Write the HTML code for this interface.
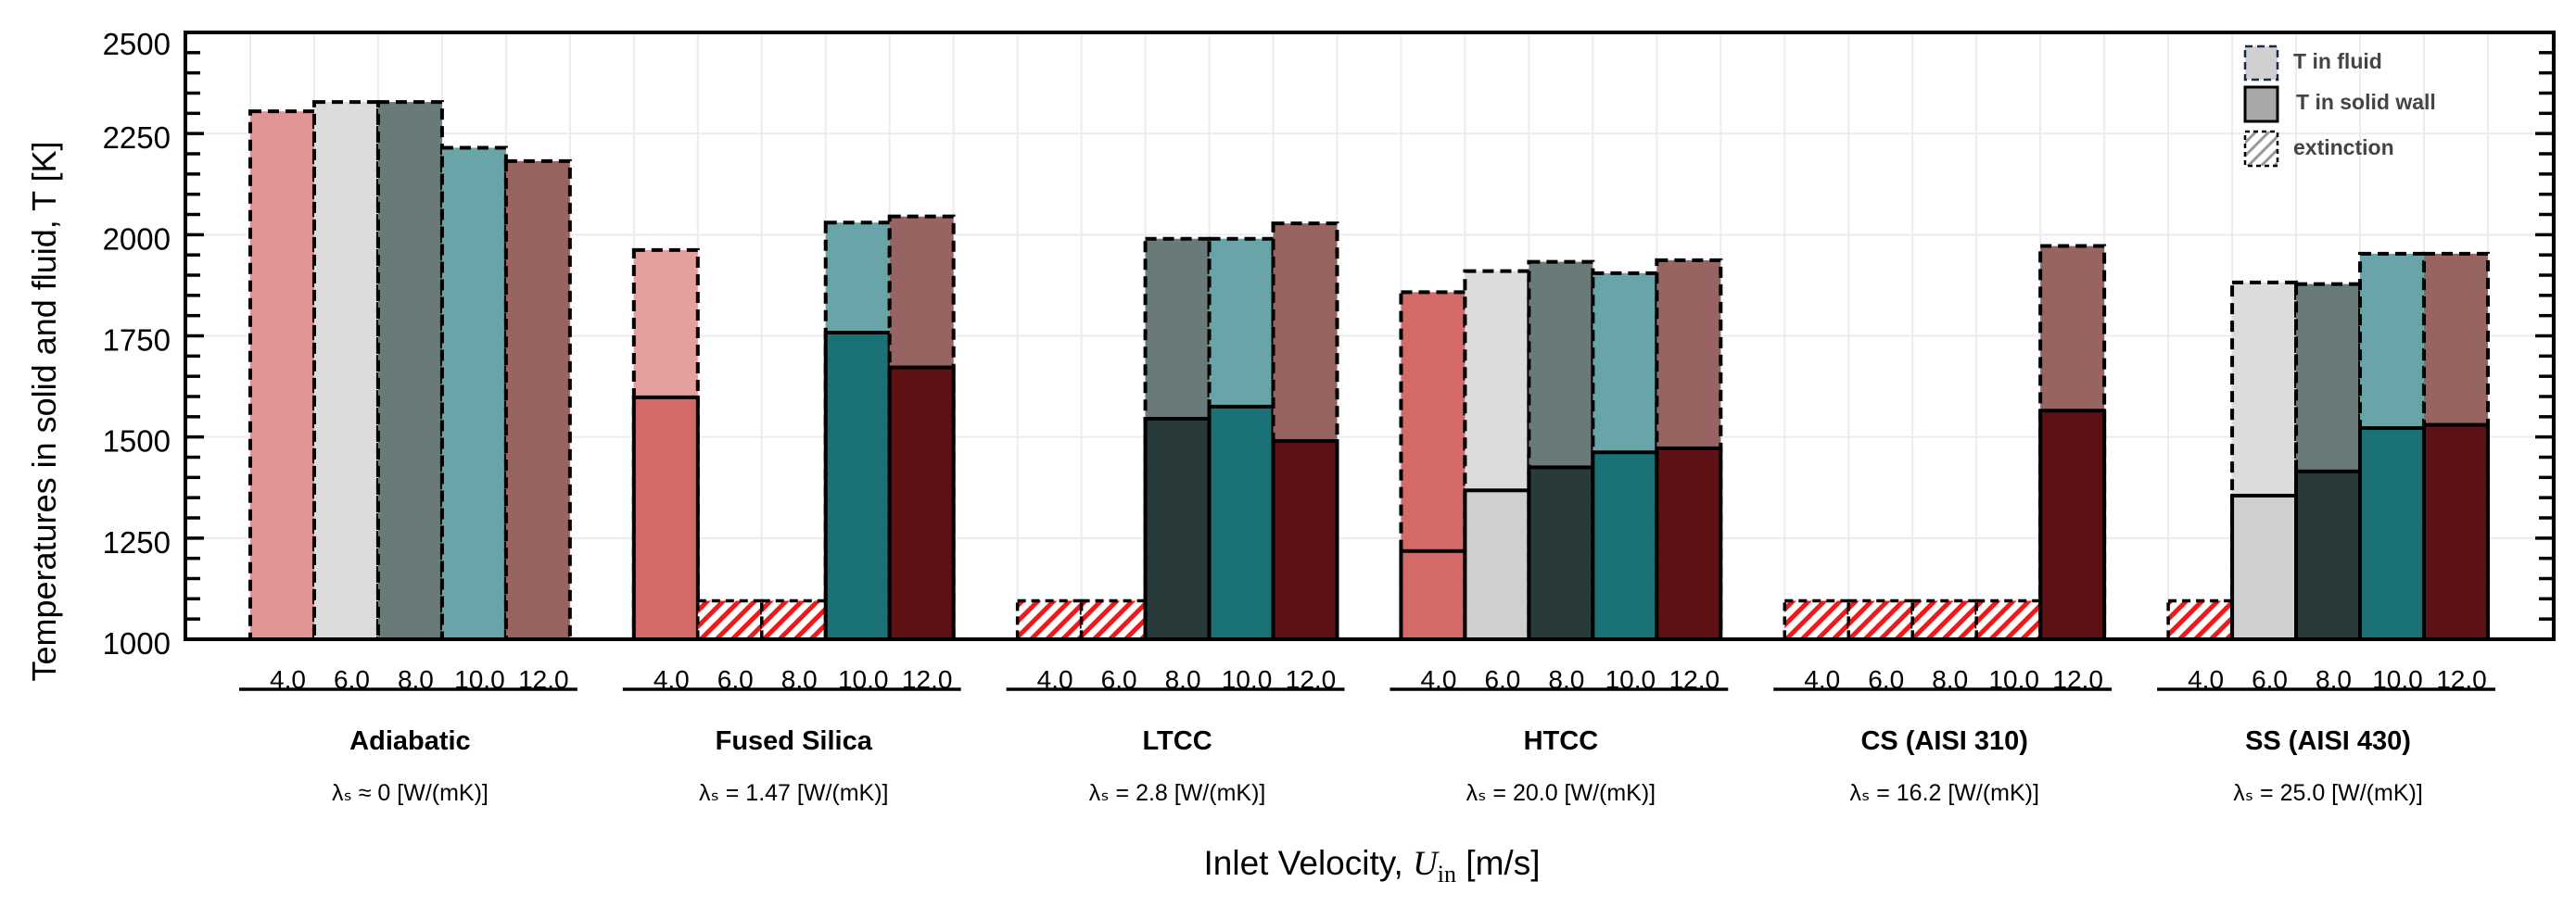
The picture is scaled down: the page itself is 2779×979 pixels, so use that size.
<!DOCTYPE html>
<html><head><meta charset="utf-8">
<style>
html,body{margin:0;padding:0;background:#fff;}
svg{display:block;font-family:"Liberation Sans",sans-serif;}
</style></head>
<body>
<svg id="chart" width="2779" height="979" viewBox="0 0 2779 979" xmlns="http://www.w3.org/2000/svg">
<defs>
<pattern id="hatch" patternUnits="userSpaceOnUse" width="12" height="12" patternTransform="rotate(45)">
<rect width="12" height="12" fill="#fff"/>
<rect width="5" height="12" fill="#f01818"/>
</pattern>
<pattern id="hatchgray" patternUnits="userSpaceOnUse" width="10" height="10" patternTransform="rotate(45)">
<rect width="10" height="10" fill="#fff"/>
<rect width="3" height="10" fill="#999"/>
</pattern>
</defs>
<g id="grid"></g>
<g id="bars"></g>
<g id="axes"></g>
<g id="xlabels"></g>
<text x="0" y="0" transform="translate(60,444) rotate(-90)" text-anchor="middle" font-size="36" fill="#000">Temperatures in solid and fluid, T [K]</text>
<text x="1480" y="944" text-anchor="middle" font-size="37" fill="#000">Inlet Velocity, <tspan font-family="Liberation Serif" font-style="italic">U</tspan><tspan font-family="Liberation Serif" font-size="26" dy="8">in</tspan><tspan dy="-8"> [m/s]</tspan></text>
<g>
<rect x="2422" y="50" width="35" height="36" fill="#d0d0d0" stroke="#1a2a4a" stroke-width="2.5" stroke-dasharray="8,5"/>
<text x="2474" y="74" font-size="23" font-weight="bold" fill="#444">T in fluid</text>
<rect x="2422" y="94" width="35" height="37" fill="#a8a8a8" stroke="#000" stroke-width="3"/>
<text x="2477" y="118" font-size="23" font-weight="bold" fill="#444">T in solid wall</text>
<rect x="2422" y="142" width="35" height="37" fill="url(#hatchgray)" stroke="#000" stroke-width="2.5" stroke-dasharray="5,4"/>
<text x="2474" y="167" font-size="23" font-weight="bold" fill="#444">extinction</text>
</g>
</svg>
<script>
const groups = ["Adiabatic","Fused Silica","LTCC","HTCC","CS (AISI 310)","SS (AISI 430)"];
const lambdaLabels = ["λ\u209B ≈ 0 [W/(mK)]","λ\u209B = 1.47 [W/(mK)]","λ\u209B = 2.8 [W/(mK)]","λ\u209B = 20.0 [W/(mK)]","λ\u209B = 16.2 [W/(mK)]","λ\u209B = 25.0 [W/(mK)]"];
const velocities = ["4.0","6.0","8.0","10.0","12.0"];
// fluid temperatures; null = extinction
const fluidAdiabatic = [2305,2328,2328,2215,2182];
const fluidFused = [1962,null,null,2030,2045];
const fluidLTCC = [null,null,1990,1990,2028];
const fluidHTCC = [1858,1910,1933,1905,1937];
const fluidCS = [null,null,null,null,1972];
const fluidSS = [null,1882,1878,1953,1953];
// solid wall temperatures; null = none
const solidAdiabatic = [null,null,null,null,null];
const solidFused = [1598,null,null,1758,1672];
const solidLTCC = [null,null,1545,1575,1490];
const solidHTCC = [1218,1368,1425,1462,1472];
const solidCS = [null,null,null,null,1565];
const solidSS = [null,1355,1415,1522,1530];
const extinctionLevel = 1095;
const yTicks = [1000,1250,1500,1750,2000,2250,2500];

const fluidT = [fluidAdiabatic,fluidFused,fluidLTCC,fluidHTCC,fluidCS,fluidSS];
const solidT = [solidAdiabatic,solidFused,solidLTCC,solidHTCC,solidCS,solidSS];

const NS="http://www.w3.org/2000/svg";
const L=200,R=2755,T=35,B=690,yMin=1000,yMax=2500;
const slotW=68.97, x0=270;
const fluidCol=['#e09494','#dcdcdc','#6a7a78','#68a4a8','#986462'];
const solidCol=['#d46a68','#cfcfcf','#283a3a','#1a7276','#5e1014'];
const fluidOverride={'1-0':'#e4a09e','3-0':'#d46a68'};
function y(v){return B-(v-yMin)*(B-T)/(yMax-yMin);}
function xs(g,i){return x0+(g*6+i)*slotW;}
function mk(tag,attrs,parent){const e=document.createElementNS(NS,tag);for(const k in attrs)e.setAttribute(k,attrs[k]);parent.appendChild(e);return e;}

const grid=document.getElementById('grid');
for(let s=0;s<=36;s++){const gx=x0+s*slotW;if(gx>R)break;
 const ln=mk('line',{x1:gx,x2:gx,y1:T,y2:B,stroke:'#ececec','stroke-width':2},grid);
 
 }
yTicks.forEach(v=>{const ln=mk('line',{x1:L,x2:R,y1:y(v),y2:y(v),stroke:'#ececec','stroke-width':2},grid);
 
 });

const bars=document.getElementById('bars');
groups.forEach((g,gi)=>{
 velocities.forEach((v,i)=>{
  const x=xs(gi,i), f=fluidT[gi][i], s=solidT[gi][i];
  if(f===null){
   const r=mk('rect',{x:x,y:y(extinctionLevel),width:slotW,height:B-y(extinctionLevel),fill:'url(#hatch)',stroke:'#000','stroke-width':3.5,'stroke-dasharray':'9,6'},bars);
   
   
   return;}
  const fc=fluidOverride[gi+'-'+i]||fluidCol[i];
  const r=mk('rect',{x:x,y:y(f),width:slotW,height:B-y(f),fill:fc,stroke:'#000','stroke-width':4,'stroke-dasharray':'12,7'},bars);
  
  
  if(s!==null){
   const r2=mk('rect',{x:x,y:y(s),width:slotW,height:B-y(s),fill:solidCol[i],stroke:'#000','stroke-width':4},bars);
   
   }
 });
});

const axes=document.getElementById('axes');
mk('rect',{x:L,y:T,width:R-L,height:B-T,fill:'none',stroke:'#000','stroke-width':4},axes);
for(let v=yMin;v<=yMax;v+=50){
 const major=(v%250===0), len=major?20:16;
 mk('line',{x1:L,x2:L+len,y1:y(v),y2:y(v),stroke:'#000','stroke-width':3.5},axes);
 mk('line',{x1:R-len,x2:R,y1:y(v),y2:y(v),stroke:'#000','stroke-width':3.5},axes);
}
yTicks.forEach(v=>{
 const t=mk('text',{x:184,y:y(v)+(v===2500?24:16),'text-anchor':'end','font-size':33,fill:'#000'},axes);
 t.textContent=v;
 
 
});

const xl=document.getElementById('xlabels');
groups.forEach((g,gi)=>{
 velocities.forEach((v,i)=>{
  const t=mk('text',{x:xs(gi,i)+slotW/2+6,y:743,'text-anchor':'middle','font-size':28,fill:'#000'},xl);
  t.textContent=v;
  
  
 });
 const gx=xs(gi,0);
 mk('line',{x1:gx-12,x2:gx+5*slotW+8,y1:744,y2:744,stroke:'#000','stroke-width':3.5},xl);
 const cx=gx+2.5*slotW;
 const t=mk('text',{x:cx,y:809,'text-anchor':'middle','font-size':29,'font-weight':'bold',fill:'#000'},xl);
 t.textContent=g;
 
 
 const t2=mk('text',{x:cx,y:864,'text-anchor':'middle','font-size':25,fill:'#000'},xl);
 t2.textContent=lambdaLabels[gi];
 
 
});
</script>
</body></html>
